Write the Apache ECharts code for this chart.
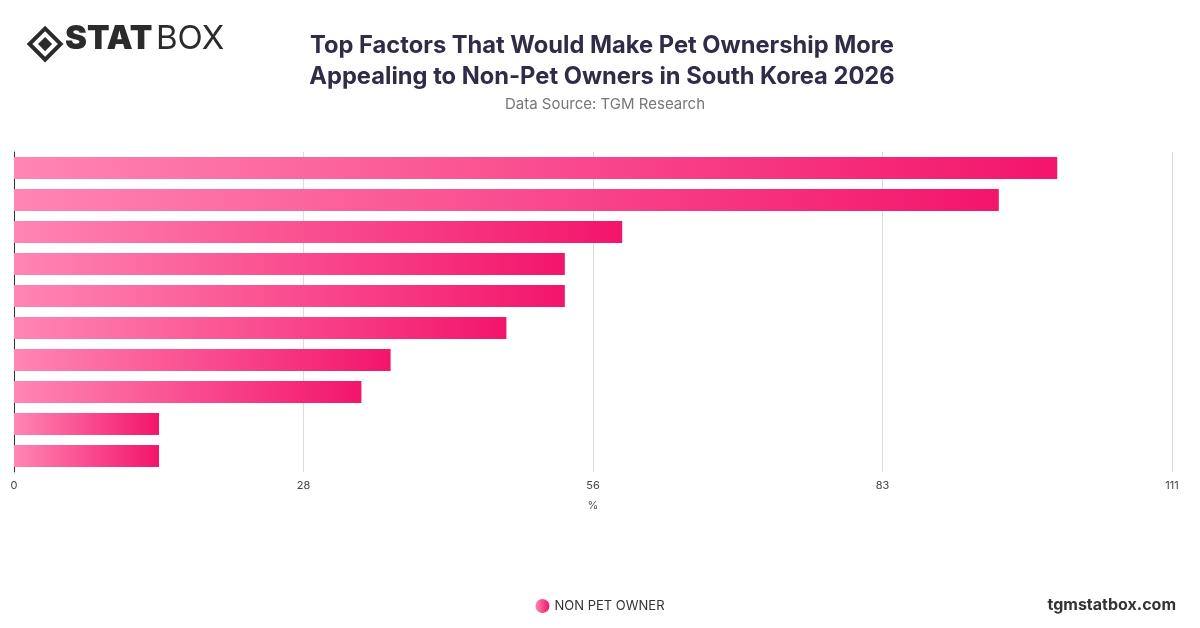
<!DOCTYPE html>
<html><head><meta charset="utf-8">
<script src="https://cdn.jsdelivr.net/npm/echarts@6/dist/echarts.min.js"></script>
<style>html,body{margin:0;padding:0;background:#fff}#c{width:1200px;height:628px}</style>
</head><body><div id="c"></div>
<script>
const categories = ['Factor 1','Factor 2','Factor 3','Factor 4','Factor 5','Factor 6','Factor 7','Factor 8','Factor 9','Factor 10'];
const values = [100, 94.4, 58.3, 52.8, 52.8, 47.2, 36.1, 33.3, 13.9, 13.9];
const seriesName = 'NON PET OWNER';
const chart = echarts.init(document.getElementById('c'));
const grad = new echarts.graphic.LinearGradient(0,0,1,0,[{offset:0,color:'#ff86b3'},{offset:1,color:'#f3156b'}]);
chart.setOption({
  animation:false,
  title:[{text:'Top Factors That Would Make Pet Ownership More\nAppealing to Non-Pet Owners in South Korea 2026',left:597,top:25,textAlign:'center',
    textStyle:{fontFamily:'Inter',fontSize:23.7,fontWeight:'bold',color:'#2e2c47',lineHeight:31}},
    {text:'Data Source: TGM Research',left:600,top:92,textAlign:'center',textStyle:{fontFamily:'Inter',fontSize:15,fontWeight:'normal',color:'#777'}}],
  graphic:[
    {type:'group',left:26,top:25,children:[
      {type:'rect',shape:{x:3,y:3,width:22,height:22},rotation:Math.PI/4,origin:[14,14],style:{fill:'none',stroke:'#2b2b2b',lineWidth:4}},
      {type:'rect',shape:{x:9,y:9,width:10,height:10},rotation:Math.PI/4,origin:[14,14],style:{fill:'#2b2b2b'}}
    ]},
    {type:'text',left:65,top:23,style:{text:'STAT',font:'900 33px Inter',fill:'#2b2b2b'}},
    {type:'text',left:156,top:23,style:{text:'BOX',font:'400 33px Inter',fill:'#2b2b2b'}},
    {type:'text',right:24,top:597,style:{text:'tgmstatbox.com',font:'bold 16px Inter',fill:'#333'}}
  ],
  legend:{bottom:10,left:'center',icon:'circle',itemWidth:14,itemHeight:14,data:[seriesName],textStyle:{fontFamily:'Inter',fontSize:13,color:'#333'}},
  grid:{left:14,right:28,top:152,bottom:156,containLabel:false},
  xAxis:{type:'value',min:0,max:111,interval:27.75,name:'%',nameLocation:'middle',nameGap:28,
    nameTextStyle:{fontFamily:'Inter',fontSize:11,color:'#555'},
    axisLabel:{formatter:v=>Math.round(v),fontFamily:'Inter',fontSize:11,color:'#444'},
    splitLine:{lineStyle:{color:'#ddd'}},axisLine:{show:false},axisTick:{show:false}},
  yAxis:{type:'category',inverse:true,data:categories,axisLabel:{show:false},axisTick:{show:false},
    axisLine:{show:true,lineStyle:{color:'#333'}}},
  series:[{name:seriesName,type:'bar',data:values,barWidth:22,itemStyle:{color:grad}}]
});
</script></body></html>
